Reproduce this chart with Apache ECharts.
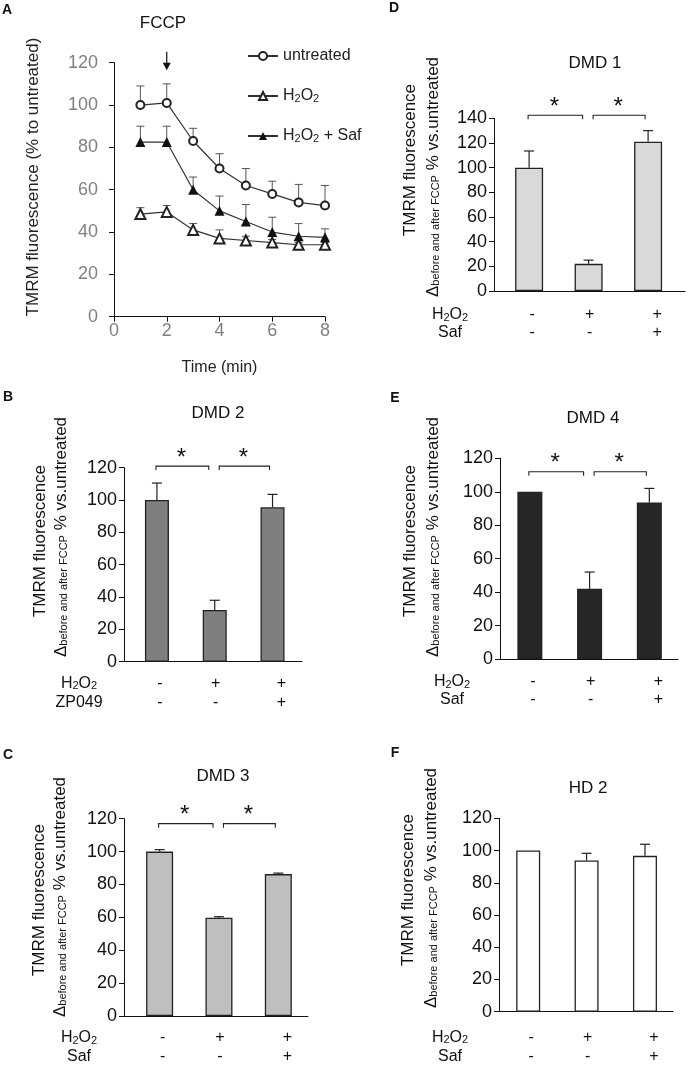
<!DOCTYPE html>
<html><head><meta charset="utf-8">
<script src="https://cdn.jsdelivr.net/npm/echarts@6/dist/echarts.min.js"></script>
<style>html,body{margin:0;padding:0;background:#fff}#c{width:690px;height:1074px}</style>
</head><body><div id="c"></div>
<script>
// ---------- Panel A data ----------
const timeMin = [1, 2, 3, 4, 5, 6, 7, 8];
const untreated = [100, 101, 83, 70, 62, 58, 54, 52.5];
const untreatedErr = [9, 9, 6, 7, 8, 6, 8.5, 9.5];
const h2o2 = [48.5, 49.5, 41, 37, 36, 35, 34, 34];
const h2o2Err = [3, 3, 3, 4, 2, 1.5, 1, 1];
const h2o2Saf = [82.5, 82.5, 60, 50, 45, 40, 38, 37.5];
const h2o2SafErr = [7.5, 7.5, 6, 7, 8, 7, 6, 4];
const fccpTime = 2;

// ---------- Bar panels data ----------
const barPos = [1, 2, 3];
const dmd1 = [100, 22, 121];   const dmd1Err = [13.5, 3, 9];   const dmd1Sig = 142.5;
const dmd2 = [100, 32, 95.5];  const dmd2Err = [10.5, 6, 8];   const dmd2Sig = 121;
const dmd3 = [100, 59.8, 86.3]; const dmd3Err = [1.2, 0.6, 0.6]; const dmd3Sig = 117;
const dmd4 = [100, 42, 93.5];  const dmd4Err = [0, 10, 8.5];   const dmd4Sig = 112;
const hd2 = [100, 93.8, 96.7]; const hd2Err = [0, 4.5, 7.2];
const h2o2Signs = ['-', '+', '+'];
const cotreatSigns = ['-', '-', '+'];
const sigPairs = [[1, 2], [2, 3]];

const FONT = '"Liberation Sans", Arial, Helvetica, sans-serif';
const chart = echarts.init(document.getElementById('c'), null, {renderer: 'canvas', width: 690, height: 1074});

const panels = [
  {title: 'DMD 1', vals: dmd1, errs: dmd1Err, sig: dmd1Sig, color: '#d9d9d9', row2: 'Saf',
   grid: {left: 494, top: 118.3, width: 191, height: 172.7}, ymax: 140, xmin: 0.41, xmax: 3.62, barW: 28,
   signDy: [24, 42], rowX: 450, nameX: [410, 433], nameY: [160, 177], titlePos: [595, 63]},
  {title: 'DMD 2', vals: dmd2, errs: dmd2Err, sig: dmd2Sig, color: '#7f7f7f', row2: 'ZP049',
   grid: {left: 124, top: 467.7, width: 178, height: 194}, ymax: 120, xmin: 0.43, xmax: 3.51, barW: 24,
   signDy: [21.5, 40.5], rowX: 79, nameX: [40, 61], nameY: [541, 537], titlePos: [218, 413]},
  {title: 'DMD 3', vals: dmd3, errs: dmd3Err, sig: dmd3Sig, color: '#bfbfbf', row2: 'Saf',
   grid: {left: 124, top: 818.7, width: 184, height: 197.3}, ymax: 120, xmin: 0.40, xmax: 3.5, barW: 27,
   signDy: [22, 41], rowX: 79, nameX: [39, 60], nameY: [900, 897], titlePos: [223, 776]},
  {title: 'DMD 4', vals: dmd4, errs: dmd4Err, sig: dmd4Sig, color: '#262626', row2: 'Saf',
   grid: {left: 500, top: 458.3, width: 178, height: 200.7}, ymax: 120, xmin: 0.5, xmax: 3.48, barW: 25,
   signDy: [23, 41], rowX: 452, nameX: [410, 433], nameY: [541, 537], titlePos: [593, 418]},
  {title: 'HD 2', vals: hd2, errs: hd2Err, sig: null, color: '#ffffff', row2: 'Saf',
   grid: {left: 499, top: 818.3, width: 174, height: 193.4}, ymax: 120, xmin: 0.5, xmax: 3.48, barW: 24,
   signDy: [26, 45], rowX: 450, nameX: [408, 431], nameY: [890, 888], titlePos: [588, 788]}
];
const signDx = [3, 1, 9];

function errorRender(color, lw, capHalf) {
  return function (params, api) {
    const x = api.value(0), v = api.value(1), e = api.value(2);
    if (!e) return {type: 'group', children: []};
    const p0 = api.coord([x, v]), p1 = api.coord([x, v + e]);
    return {type: 'group', children: [
      {type: 'line', shape: {x1: p0[0], y1: p0[1], x2: p1[0], y2: p1[1]}, style: {stroke: color, lineWidth: lw}},
      {type: 'line', shape: {x1: p1[0] - capHalf, y1: p1[1], x2: p1[0] + capHalf, y2: p1[1]}, style: {stroke: color, lineWidth: lw}}
    ]};
  };
}

const grids = [{left: 114, top: 62.7, width: 211, height: 254}];
const xAxes = [{
  gridIndex: 0, type: 'value', min: 0, max: 8, interval: 2,
  axisLine: {show: true, lineStyle: {color: '#111', width: 1}},
  axisTick: {show: true, length: 5, lineStyle: {color: '#111'}},
  axisLabel: {color: '#808080', fontSize: 18, fontFamily: FONT, margin: 5},
  splitLine: {show: false},
  name: 'Time (min)', nameLocation: 'middle', nameGap: 43,
  nameTextStyle: {fontSize: 16, color: '#222', fontFamily: FONT}
}];
const yAxes = [{
  gridIndex: 0, type: 'value', min: 0, max: 120, interval: 20,
  axisLine: {show: true, lineStyle: {color: '#111', width: 1}},
  axisTick: {show: true, length: 5, lineStyle: {color: '#111'}},
  axisLabel: {color: '#808080', fontSize: 18, fontFamily: FONT, margin: 16},
  splitLine: {show: false}
}];

const lineStyleBase = {color: '#333', width: 1.2};
const series = [
  {type: 'custom', name: 'errU', xAxisIndex: 0, yAxisIndex: 0, z: 1, silent: true,
   data: timeMin.map((t, i) => [t, untreated[i], untreatedErr[i]]), renderItem: errorRender('#555', 1, 4), encode: {x: 0, y: 1}},
  {type: 'custom', name: 'errH', xAxisIndex: 0, yAxisIndex: 0, z: 1, silent: true,
   data: timeMin.map((t, i) => [t, h2o2[i], h2o2Err[i]]), renderItem: errorRender('#555', 1, 4), encode: {x: 0, y: 1}},
  {type: 'custom', name: 'errS', xAxisIndex: 0, yAxisIndex: 0, z: 1, silent: true,
   data: timeMin.map((t, i) => [t, h2o2Saf[i], h2o2SafErr[i]]), renderItem: errorRender('#555', 1, 4), encode: {x: 0, y: 1}},
  {type: 'line', name: 'untreated', xAxisIndex: 0, yAxisIndex: 0, z: 3,
   data: timeMin.map((t, i) => [t, untreated[i]]), symbol: 'emptyCircle', symbolSize: 8,
   lineStyle: lineStyleBase, itemStyle: {color: '#222', borderWidth: 1.2}},
  {type: 'line', name: 'H2O2', xAxisIndex: 0, yAxisIndex: 0, z: 3,
   data: timeMin.map((t, i) => [t, h2o2[i]]), symbol: 'emptyTriangle', symbolSize: 10,
   lineStyle: lineStyleBase, itemStyle: {color: '#222', borderWidth: 1.2}},
  {type: 'line', name: 'H2O2 + Saf', xAxisIndex: 0, yAxisIndex: 0, z: 3,
   data: timeMin.map((t, i) => [t, h2o2Saf[i]]), symbol: 'triangle', symbolSize: 10,
   lineStyle: lineStyleBase, itemStyle: {color: '#111'}},
  {type: 'custom', name: 'fccpArrow', xAxisIndex: 0, yAxisIndex: 0, z: 5, silent: true, clip: false,
   data: [[fccpTime, 120]], encode: {x: 0, y: 1},
   renderItem: function (params, api) {
     const p = api.coord([api.value(0), api.value(1)]);
     return {type: 'group', children: [
       {type: 'line', shape: {x1: p[0], y1: p[1] - 11, x2: p[0], y2: p[1] + 2}, style: {stroke: '#111', lineWidth: 1.2}},
       {type: 'polygon', shape: {points: [[p[0] - 4, p[1]], [p[0] + 4, p[1]], [p[0], p[1] + 7.5]]}, style: {fill: '#111'}}
     ]};
   }}
];

const graphics = [
  {type: 'text', x: 7, y: 10, style: {text: 'A', font: 'bold 14px ' + FONT, fill: '#111', align: 'center', verticalAlign: 'middle'}},
  {type: 'text', x: 394, y: 8, style: {text: 'D', font: 'bold 14px ' + FONT, fill: '#111', align: 'center', verticalAlign: 'middle'}},
  {type: 'text', x: 8, y: 397, style: {text: 'B', font: 'bold 14px ' + FONT, fill: '#111', align: 'center', verticalAlign: 'middle'}},
  {type: 'text', x: 395, y: 398, style: {text: 'E', font: 'bold 14px ' + FONT, fill: '#111', align: 'center', verticalAlign: 'middle'}},
  {type: 'text', x: 8, y: 755, style: {text: 'C', font: 'bold 14px ' + FONT, fill: '#111', align: 'center', verticalAlign: 'middle'}},
  {type: 'text', x: 395, y: 753, style: {text: 'F', font: 'bold 14px ' + FONT, fill: '#111', align: 'center', verticalAlign: 'middle'}},
  {type: 'text', x: 163, y: 23, style: {text: 'FCCP', font: '17px ' + FONT, fill: '#111', align: 'center', verticalAlign: 'middle'}},
  {type: 'text', x: 33, y: 177, rotation: Math.PI / 2,
   style: {text: 'TMRM fluorescence (% to untreated)', font: '17px ' + FONT, fill: '#222', align: 'center', verticalAlign: 'middle'}}
];

const subRich = {
  s: {fontSize: 11, fontFamily: FONT, fill: '#111', color: '#111', verticalAlign: 'bottom'},
  d: {fontSize: 17, fontFamily: FONT, fill: '#111', color: '#111'}
};

panels.forEach((pn, k) => {
  const gi = k + 1;
  grids.push(pn.grid);
  xAxes.push({gridIndex: gi, type: 'value', min: pn.xmin, max: pn.xmax,
    axisLine: {show: true, onZero: false, lineStyle: {color: '#111', width: 1}},
    axisTick: {show: false}, axisLabel: {show: false}, splitLine: {show: false}});
  yAxes.push({gridIndex: gi, type: 'value', min: 0, max: pn.ymax, interval: 20,
    axisLine: {show: true, lineStyle: {color: '#111', width: 1}},
    axisTick: {show: true, length: 5, lineStyle: {color: '#111'}},
    axisLabel: {color: '#111', fontSize: 18, fontFamily: FONT, margin: 7},
    splitLine: {show: false}});
  series.push({type: 'bar', xAxisIndex: gi, yAxisIndex: gi, barWidth: pn.barW, z: 2,
    data: barPos.map((x, j) => [x, pn.vals[j]]),
    itemStyle: {color: pn.color, borderColor: '#222', borderWidth: 1.3}});
  series.push({type: 'custom', xAxisIndex: gi, yAxisIndex: gi, z: 3, silent: true, clip: false,
    data: barPos.map((x, j) => [x, pn.vals[j], pn.errs[j]]), encode: {x: 0, y: 1},
    renderItem: errorRender('#222', 1.2, 5)});
  if (pn.sig !== null) {
    series.push({type: 'custom', xAxisIndex: gi, yAxisIndex: gi, z: 3, silent: true, clip: false,
      data: sigPairs.map(p => [p[0], p[1], pn.sig]), encode: {x: [0, 1], y: 2},
      renderItem: function (params, api) {
        const a = api.value(0), b = api.value(1), lv = api.value(2);
        const pa = api.coord([a, lv]), pb = api.coord([b, lv]);
        const l = pa[0] + (a === 2 ? 4.5 : -1), r = pb[0] + (b === 2 ? -6 : -3), y = pa[1];
        return {type: 'group', children: [
          {type: 'polyline', shape: {points: [[l, y + 4], [l, y], [r, y], [r, y + 4]]}, style: {stroke: '#222', lineWidth: 1.1, fill: null}},
          {type: 'text', x: (l + r) / 2 - 1, y: y - 8, style: {text: '*', font: '24px ' + FONT, fill: '#111', align: 'center', verticalAlign: 'middle'}}
        ]};
      }});
  }
  series.push({type: 'custom', xAxisIndex: gi, yAxisIndex: gi, z: 3, silent: true, clip: false,
    data: barPos.map((x, j) => [x, 0, j]), encode: {x: 0, y: 1},
    renderItem: function (params, api) {
      const p = api.coord([api.value(0), 0]); const j = api.value(2);
      return {type: 'group', children: [
        {type: 'text', x: p[0] + signDx[j], y: p[1] + pn.signDy[0], style: {text: h2o2Signs[j], font: '16px ' + FONT, fill: '#111', align: 'center', verticalAlign: 'middle'}},
        {type: 'text', x: p[0] + signDx[j], y: p[1] + pn.signDy[1], style: {text: cotreatSigns[j], font: '16px ' + FONT, fill: '#111', align: 'center', verticalAlign: 'middle'}}
      ]};
    }});
  const y0 = pn.grid.top + pn.grid.height;
  graphics.push(
    {type: 'text', x: pn.titlePos[0], y: pn.titlePos[1], style: {text: pn.title, font: '17px ' + FONT, fill: '#111', align: 'center', verticalAlign: 'middle'}},
    {type: 'text', x: pn.nameX[0], y: pn.nameY[0], rotation: Math.PI / 2,
     style: {text: 'TMRM fluorescence', font: '17px ' + FONT, fill: '#111', align: 'center', verticalAlign: 'middle'}},
    {type: 'text', x: pn.nameX[1], y: pn.nameY[1], rotation: Math.PI / 2,
     style: {text: '{d|Δ}{s|before and after FCCP} % vs.untreated', font: '17px ' + FONT, fill: '#111', align: 'center', verticalAlign: 'middle', rich: subRich}},
    {type: 'text', x: pn.rowX, y: y0 + pn.signDy[0], style: {text: 'H{s|2}O{s|2}', font: '16px ' + FONT, fill: '#111', align: 'center', verticalAlign: 'middle', rich: subRich}},
    {type: 'text', x: pn.rowX, y: y0 + pn.signDy[1], style: {text: pn.row2, font: '16px ' + FONT, fill: '#111', align: 'center', verticalAlign: 'middle'}}
  );
});

const legendNames = {'untreated': 'untreated', 'H2O2': 'H{s|2}O{s|2}', 'H2O2 + Saf': 'H{s|2}O{s|2} + Saf'};
chart.setOption({
  animation: false,
  backgroundColor: '#fff',
  textStyle: {fontFamily: FONT},
  grid: grids, xAxis: xAxes, yAxis: yAxes, series: series,
  legend: {
    data: ['untreated', 'H2O2', 'H2O2 + Saf'], orient: 'vertical', left: 242, top: 43,
    itemWidth: 30, itemHeight: 10, itemGap: 24, selectedMode: false,
    formatter: n => legendNames[n],
    textStyle: {fontSize: 16, color: '#222', fontFamily: FONT,
      rich: {s: {fontSize: 11, color: '#222', fontFamily: FONT, verticalAlign: 'bottom'}}}
  },
  graphic: graphics
});
</script></body></html>
